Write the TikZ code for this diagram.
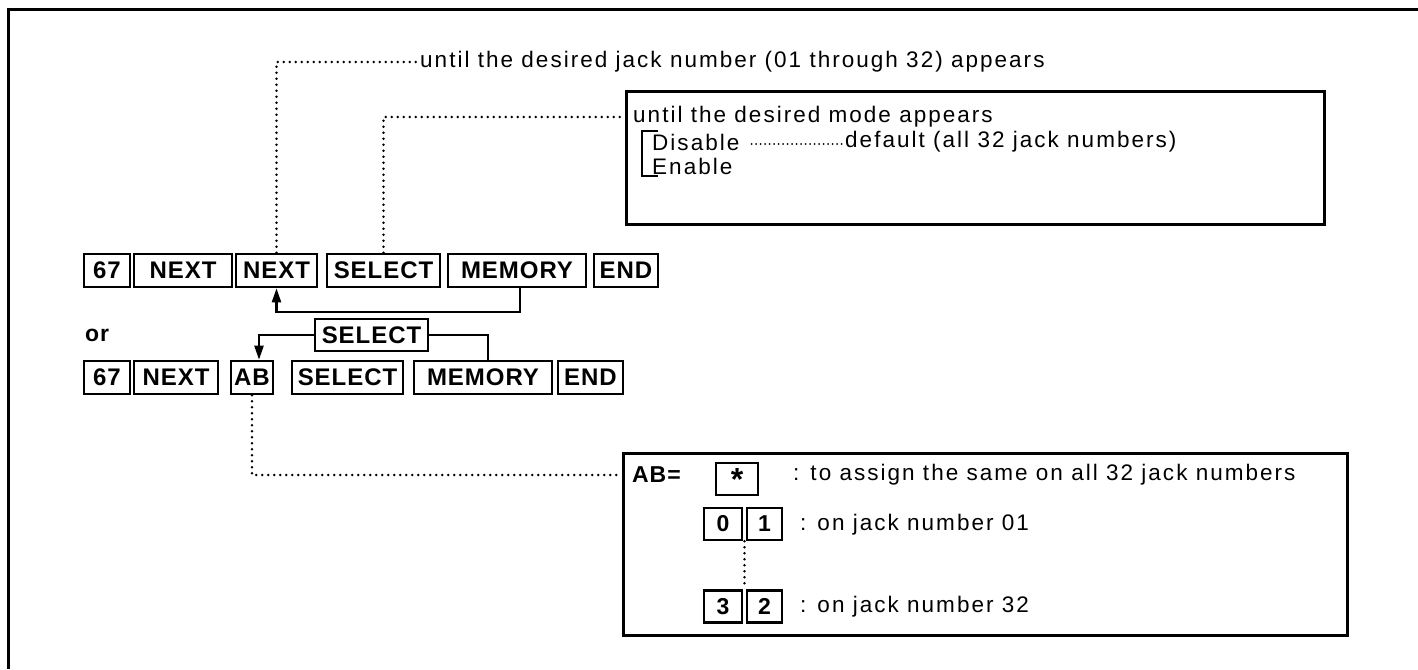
\documentclass[tikz,border=0pt]{standalone}
\usepackage{fontspec}
\newfontfamily\txtf[LetterSpace=9]{Liberation Sans}
\newfontfamily\keyf[LetterSpace=4]{Liberation Sans}
\usetikzlibrary{arrows.meta,calc}
\begin{document}
\begin{tikzpicture}[x=1pt,y=-1pt,
  keybox/.style={draw, line width=2.6pt, inner sep=0pt, minimum height=33pt,
    font=\keyf\bfseries\fontsize{24}{26}\selectfont},
  smallkey/.style={keybox, minimum height=32pt, font=\keyf\bfseries\fontsize{23}{25}\selectfont},
  txt/.style={inner sep=0pt, anchor=west, font=\txtf\fontsize{22.5}{26}\selectfont},
  btxt/.style={inner sep=0pt, anchor=west, font=\keyf\bfseries\fontsize{23}{25}\selectfont},
  boxst/.style={draw, line width=2.8pt, inner sep=0pt},
  conn/.style={line width=2.2pt},
  tip/.style={-{Triangle[length=14pt,width=9pt]}},
  dotl/.style={line width=2.8pt, dash pattern=on 0pt off 6pt, line cap=round},
  dotf/.style={line width=2pt, dash pattern=on 0pt off 4.5pt, line cap=round}
]
\useasboundingbox (0,0) rectangle (1418,669);
% outer frame
\draw[line width=3pt] (8,669) -- (8,10) -- (1418,10);

% row 1
\node[keybox, minimum width=46pt]  (k1a) at (107,270.5) {67};
\node[keybox, minimum width=98pt]  (k1b) at (183,270.5) {NEXT};
\node[keybox, minimum width=81pt]  (k1c) at (276.5,270.5) {NEXT};
\node[keybox, minimum width=113pt] (k1d) at (383.5,270.5) {SELECT};
\node[keybox, minimum width=138pt] (k1e) at (517,270.5) {MEMORY};
\node[keybox, minimum width=64pt]  (k1f) at (626,270.5) {END};

% or
\node[btxt] (or) at (85,335) {or};
\node[keybox, minimum width=113pt, minimum height=32pt] (ksel) at (371.5,335) {SELECT};

% row 2
\node[keybox, minimum width=46pt]  (k2a) at (107,377.5) {67};
\node[keybox, minimum width=84pt]  (k2b) at (176,377.5) {NEXT};
\node[keybox, minimum width=42pt]  (k2c) at (252,377.5) {AB};
\node[keybox, minimum width=111pt] (k2d) at (347.5,377.5) {SELECT};
\node[keybox, minimum width=138pt] (k2e) at (483,377.5) {MEMORY};
\node[keybox, minimum width=65pt]  (k2f) at (590.5,377.5) {END};

% connectors
\draw[conn,tip] ($(k1e.south)+(3,0)$) -- ++(0,24) -| (k1c.south);
\draw[conn,tip] (ksel.west) -| ($(k2c.north)+(7,0)$);
\draw[conn] (ksel.east) -| ($(k2e.north)+(5,0)$);

% top text
\node[txt] (toptext) at (420,62) {until the desired jack number (01 through 32) appears};
\draw[dotl] (k1c.north) |- ($(toptext.west)+(-4,0)$);

% mode box
\node[boxst, anchor=north west, minimum width=698pt, minimum height=133pt] (modebox) at (625,90) {};
\node[txt] (mtitle) at (633,117) {until the desired mode appears};
\node[txt] (dis) at (652,142) {Disable};
\node[txt] (en) at (652,166) {Enable};
\node[txt] (def) at (845,142) {default (all 32 jack numbers)};
\draw[line width=2.2pt] ($(dis.west)+(6,-11)$) -- ($(dis.west)+(-10,-11)$) -- ($(en.west)+(-10,10)$) -- ($(en.west)+(6,10)$);
\draw[dotf] ($(dis.east)+(12,2)$) -- ($(def.west)+(-3,2)$);
\draw[dotl] (k1d.north) |- (modebox.west |- mtitle.west);

% AB box
\node[boxst, anchor=north west, minimum width=724pt, minimum height=182pt] (abbox) at (622,452) {};
\node[btxt] (abeq) at (632,475) {AB=};
\node[smallkey, minimum width=42pt] (kstar) at (737,479) {\fontsize{32}{32}\selectfont\raisebox{-0.32em}{*}};
\node[txt] (tall) at (793,475) {: to assign the same on all 32 jack numbers};
\node[smallkey, minimum width=38pt] (k0) at (723,524) {0};
\node[smallkey, minimum width=35pt] (k1) at (764.5,524) {1};
\node[txt] (t01) at (800,525) {: on jack number 01};
\node[smallkey, minimum width=38pt] (k3) at (723,606.5) {3};
\node[smallkey, minimum width=35pt] (k2) at (764.5,606.5) {2};
\node[txt] (t32) at (800,607) {: on jack number 32};
\draw[dotl] ($(k0.south east)!0.5!(k1.south west)$) -- ($(k3.north east)!0.5!(k2.north west)$);
\draw[dotl] (k2c.south) |- (abbox.west |- abeq.west);
\end{tikzpicture}
\end{document}
